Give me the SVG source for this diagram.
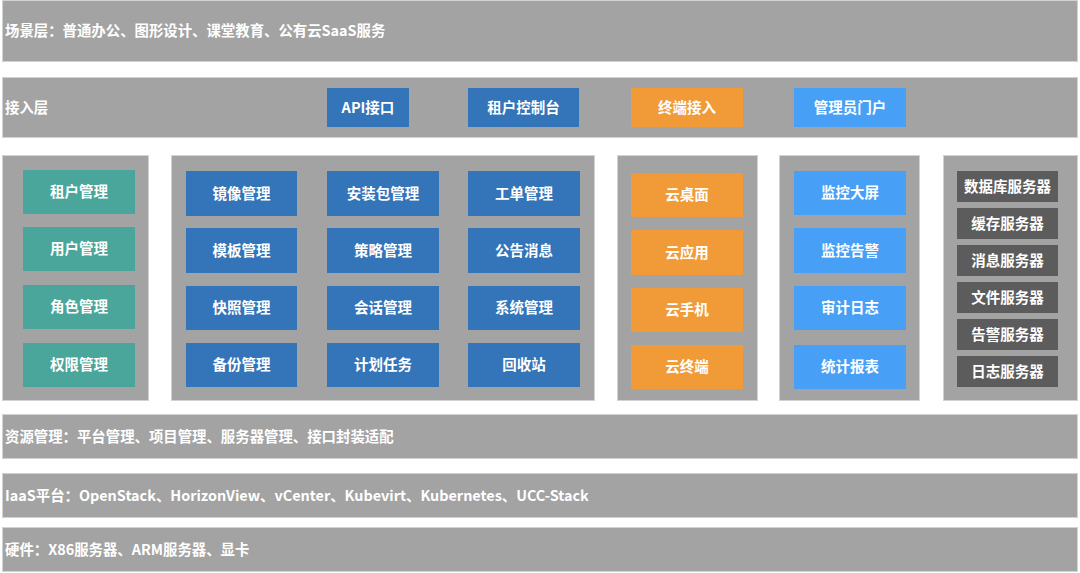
<svg xmlns="http://www.w3.org/2000/svg" width="1080" height="573" viewBox="0 0 1080 573">
<style>
.band{fill:#a3a3a3;stroke:#d2d2d2;stroke-width:1}
.panel{fill:#a3a3a3;stroke:#d2d2d2;stroke-width:1}
.bl{font-family:"Noto Sans CJK SC","Liberation Sans",sans-serif;font-size:14.4px;font-weight:700;fill:#ffffff}
.t{font-family:"Noto Sans CJK SC","Liberation Sans",sans-serif;font-size:14.5px;font-weight:700;fill:#ffffff;text-anchor:middle}
.teal{fill:#4aa69a}
.dblue{fill:#3474b8}
.orange{fill:#f09a38}
.lblue{fill:#47a0f5}
.dgray{fill:#5c5c5c}
</style>
<rect width="1080" height="573" fill="#ffffff"/>
<g id="scene-layer">
<rect class="band" x="2.5" y="0.5" width="1075" height="61"/>
<text class="bl" x="5" y="36">场景层：普通办公、图形设计、课堂教育、公有云SaaS服务</text>
</g>
<g id="access-layer">
<rect class="band" x="2.5" y="77.5" width="1075" height="60"/>
<text class="bl" x="5" y="113">接入层</text>
</g>
<g id="api"><rect class="dblue" x="327" y="88" width="82" height="39"/><text class="t" x="368" y="112.5">API接口</text></g>
<g id="tenant-console"><rect class="dblue" x="468" y="88" width="111" height="39"/><text class="t" x="523.5" y="112.5">租户控制台</text></g>
<g id="terminal-access"><rect class="orange" x="631" y="88" width="112" height="39"/><text class="t" x="687" y="112.5">终端接入</text></g>
<g id="admin-portal"><rect class="lblue" x="794" y="88" width="112" height="39"/><text class="t" x="850" y="112.5">管理员门户</text></g>

<g id="panel-users">
<rect class="panel" x="2.5" y="155.5" width="146" height="245"/>
</g>
<g id="tenant-mgmt"><rect class="teal" x="23" y="170" width="112" height="44"/><text class="t" x="79" y="197">租户管理</text></g>
<g id="user-mgmt"><rect class="teal" x="23" y="227" width="112" height="44"/><text class="t" x="79" y="254">用户管理</text></g>
<g id="role-mgmt"><rect class="teal" x="23" y="285" width="112" height="44"/><text class="t" x="79" y="312">角色管理</text></g>
<g id="perm-mgmt"><rect class="teal" x="23" y="343" width="112" height="44"/><text class="t" x="79" y="370">权限管理</text></g>

<g id="panel-ops">
<rect class="panel" x="171.5" y="155.5" width="423" height="245"/>
</g>
<g id="image-mgmt"><rect class="dblue" x="186" y="171" width="111" height="45"/><text class="t" x="241.5" y="198.5">镜像管理</text></g>
<g id="template-mgmt"><rect class="dblue" x="186" y="228" width="111" height="45"/><text class="t" x="241.5" y="255.5">模板管理</text></g>
<g id="snapshot-mgmt"><rect class="dblue" x="186" y="286" width="111" height="44"/><text class="t" x="241.5" y="313">快照管理</text></g>
<g id="backup-mgmt"><rect class="dblue" x="186" y="343" width="111" height="44"/><text class="t" x="241.5" y="370">备份管理</text></g>
<g id="package-mgmt"><rect class="dblue" x="327" y="171" width="112" height="45"/><text class="t" x="383" y="198.5">安装包管理</text></g>
<g id="policy-mgmt"><rect class="dblue" x="327" y="228" width="112" height="45"/><text class="t" x="383" y="255.5">策略管理</text></g>
<g id="session-mgmt"><rect class="dblue" x="327" y="286" width="112" height="44"/><text class="t" x="383" y="313">会话管理</text></g>
<g id="scheduled-task"><rect class="dblue" x="327" y="343" width="112" height="44"/><text class="t" x="383" y="370">计划任务</text></g>
<g id="ticket-mgmt"><rect class="dblue" x="468" y="171" width="112" height="45"/><text class="t" x="524" y="198.5">工单管理</text></g>
<g id="notice"><rect class="dblue" x="468" y="228" width="112" height="45"/><text class="t" x="524" y="255.5">公告消息</text></g>
<g id="system-mgmt"><rect class="dblue" x="468" y="286" width="112" height="44"/><text class="t" x="524" y="313">系统管理</text></g>
<g id="recycle-bin"><rect class="dblue" x="468" y="343" width="112" height="44"/><text class="t" x="524" y="370">回收站</text></g>

<g id="panel-cloud">
<rect class="panel" x="617.5" y="155.5" width="140" height="245"/>
</g>
<g id="cloud-desktop"><rect class="orange" x="631" y="173" width="112" height="44"/><text class="t" x="687" y="200">云桌面</text></g>
<g id="cloud-app"><rect class="orange" x="631" y="230" width="112" height="45"/><text class="t" x="687" y="257.5">云应用</text></g>
<g id="cloud-phone"><rect class="orange" x="631" y="288" width="112" height="44"/><text class="t" x="687" y="315">云手机</text></g>
<g id="cloud-terminal"><rect class="orange" x="631" y="345" width="112" height="44"/><text class="t" x="687" y="372">云终端</text></g>

<g id="panel-monitor">
<rect class="panel" x="779.5" y="155.5" width="140" height="245"/>
</g>
<g id="monitor-screen"><rect class="lblue" x="794" y="171" width="112" height="44"/><text class="t" x="850" y="198">监控大屏</text></g>
<g id="monitor-alarm"><rect class="lblue" x="794" y="228" width="112" height="45"/><text class="t" x="850" y="255.5">监控告警</text></g>
<g id="audit-log"><rect class="lblue" x="794" y="286" width="112" height="44"/><text class="t" x="850" y="313">审计日志</text></g>
<g id="stat-report"><rect class="lblue" x="794" y="345" width="112" height="44"/><text class="t" x="850" y="372">统计报表</text></g>

<g id="panel-servers">
<rect class="panel" x="943.5" y="155.5" width="134" height="245"/>
</g>
<g id="db-server"><rect class="dgray" x="957" y="171" width="101" height="31"/><text class="t" x="1007.5" y="192">数据库服务器</text></g>
<g id="cache-server"><rect class="dgray" x="957" y="208" width="101" height="31"/><text class="t" x="1007.5" y="229">缓存服务器</text></g>
<g id="msg-server"><rect class="dgray" x="957" y="245" width="101" height="31"/><text class="t" x="1007.5" y="266">消息服务器</text></g>
<g id="file-server"><rect class="dgray" x="957" y="282" width="101" height="31"/><text class="t" x="1007.5" y="303">文件服务器</text></g>
<g id="alarm-server"><rect class="dgray" x="957" y="319" width="101" height="31"/><text class="t" x="1007.5" y="340">告警服务器</text></g>
<g id="log-server"><rect class="dgray" x="957" y="356" width="101" height="31"/><text class="t" x="1007.5" y="377">日志服务器</text></g>

<g id="resource-layer">
<rect class="band" x="2.5" y="414.5" width="1075" height="44"/>
<text class="bl" x="5" y="442">资源管理：平台管理、项目管理、服务器管理、接口封装适配</text>
</g>
<g id="iaas-layer">
<rect class="band" x="2.5" y="473.5" width="1075" height="44"/>
<text class="bl" x="5" y="500.5">IaaS平台：OpenStack、HorizonView、vCenter、Kubevirt、Kubernetes、UCC-Stack</text>
</g>
<g id="hardware-layer">
<rect class="band" x="2.5" y="527.5" width="1075" height="44"/>
<text class="bl" x="5" y="555">硬件：X86服务器、ARM服务器、显卡</text>
</g>
<g id="connectors"></g>
</svg>
